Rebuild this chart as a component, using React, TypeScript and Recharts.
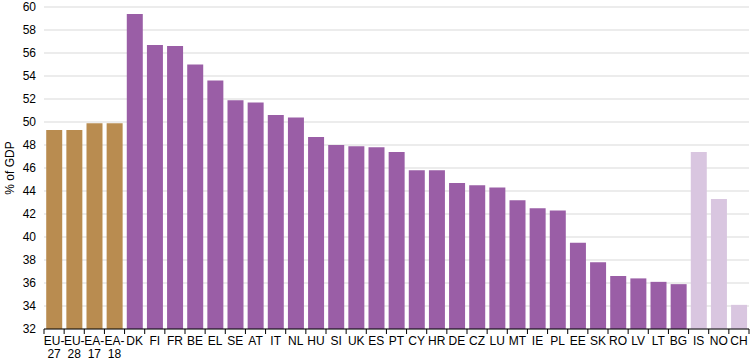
import { BarChart, Bar, XAxis, YAxis, CartesianGrid, Cell } from "recharts";

// country codes along the x axis
const categories = [
  "EU-27", "EU-28", "EA-17", "EA-18",
  "DK", "FI", "FR", "BE", "EL", "SE", "AT", "IT", "NL", "HU", "SI", "UK", "ES", "PT",
  "CY", "HR", "DE", "CZ", "LU", "MT", "IE", "PL", "EE", "SK", "RO", "LV", "LT", "BG",
  "IS", "NO", "CH",
];

// % of GDP
const values = [
  49.3, 49.3, 49.9, 49.9,
  59.4, 56.7, 56.6, 55.0, 53.6, 51.9, 51.7, 50.6, 50.4, 48.7, 48.0, 47.9, 47.8, 47.4,
  45.8, 45.8, 44.7, 44.5, 44.3, 43.2, 42.5, 42.3, 39.5, 37.8, 36.6, 36.4, 36.1, 35.9,
  47.4, 43.3, 34.1,
];

// 0 = EU / euro area aggregates, 1 = member states, 2 = EFTA countries
const groups = [
  0, 0, 0, 0,
  1, 1, 1, 1, 1, 1, 1, 1, 1, 1, 1, 1, 1, 1,
  1, 1, 1, 1, 1, 1, 1, 1, 1, 1, 1, 1, 1, 1,
  2, 2, 2,
];

const yTicks = [32, 34, 36, 38, 40, 42, 44, 46, 48, 50, 52, 54, 56, 58, 60];

const groupColors = ["#B98C50", "#9A5EA6", "#D9C6E0"];

const chartData = categories.map((name, i) => ({ name, value: values[i], group: groups[i] }));

function CategoryTick({ x, y, payload, index, visibleTicksCount }: any) {
  const half = payload.offset ?? 0;
  const axisY = y - 7;
  const label: string = payload.value;
  const lines = label.includes("-")
    ? [label.slice(0, label.indexOf("-") + 1), label.slice(label.indexOf("-") + 1)]
    : [label];
  return (
    <g>
      <line x1={x - half} x2={x - half} y1={axisY} y2={axisY + 5} stroke="#000" />
      {index === visibleTicksCount - 1 && (
        <line x1={x + half} x2={x + half} y1={axisY} y2={axisY + 5} stroke="#000" />
      )}
      <text x={x} y={y} textAnchor="middle" fill="#000" fontSize={12}>
        {lines.map((ln, i) => (
          <tspan key={i} x={x} dy={i === 0 ? "0.71em" : 13.5}>
            {ln}
          </tspan>
        ))}
      </text>
    </g>
  );
}

function YLabel({ viewBox }: any) {
  const cy = viewBox ? viewBox.y + viewBox.height / 2 : 168;
  return (
    <text
      x={10}
      y={cy}
      transform={`rotate(-90, 10, ${cy})`}
      textAnchor="middle"
      dominantBaseline="central"
      fill="#000"
      fontSize={12}
    >
      % of GDP
    </text>
  );
}

export default function App() {
  return (
    <div style={{ position: "absolute", left: 0, top: 0, background: "#fff" }}>
      <BarChart
        width={756}
        height={363}
        data={chartData}
        margin={{ top: 7, right: 7, left: 0, bottom: 0 }}
        barCategoryGap="11%"
        style={{ fontFamily: "Arial, 'Liberation Sans', sans-serif" }}
      >
        <CartesianGrid vertical={false} stroke="#D9D9D9" />
        <XAxis
          dataKey="name"
          interval={0}
          height={34}
          tickSize={5}
          tickMargin={2}
          tickLine={false}
          axisLine={{ stroke: "#000" }}
          tick={<CategoryTick />}
        />
        <YAxis
          width={44}
          domain={[32, 60]}
          ticks={yTicks}
          interval={0}
          axisLine={false}
          tickLine={false}
          tick={{ fill: "#000", fontSize: 12 }}
          label={<YLabel />}
        />
        <Bar dataKey="value" isAnimationActive={false}>
          {chartData.map((d, i) => (
            <Cell key={i} fill={groupColors[d.group]} />
          ))}
        </Bar>
      </BarChart>
    </div>
  );
}
